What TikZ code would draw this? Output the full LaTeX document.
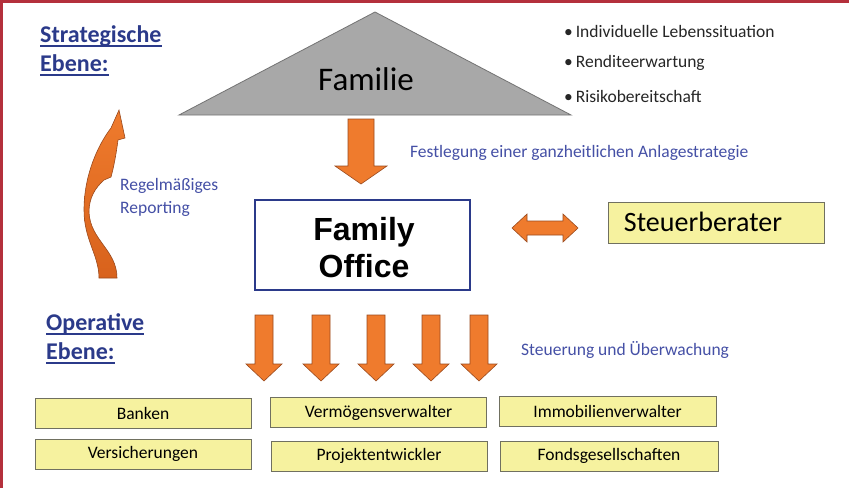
\documentclass[tikz,border=0pt]{standalone}
\usepackage{fontspec}
\setmainfont{Carlito}
\newfontfamily\arialfont{Liberation Sans}
\definecolor{headblue}{HTML}{2B3A8A}
\definecolor{txtblue}{HTML}{4550A6}
\definecolor{arrorange}{HTML}{EF7B2D}
\definecolor{arrdark}{HTML}{D8621C}
\definecolor{arredge}{HTML}{9A4A1E}
\definecolor{boxyellow}{HTML}{F6F29F}
\definecolor{boxedge}{HTML}{707060}
\definecolor{frame}{HTML}{B4303C}
\definecolor{trigray}{HTML}{A8A8A8}
\newcommand{\dnarrow}[6]{%
  \filldraw[arrowstyle] ({#1-#5},#2) -- ({#1+#5},#2) -- ({#1+#5},#3) -- ({#1+#6},#3) -- (#1,#4) -- ({#1-#6},#3) -- ({#1-#5},#3) -- cycle;}
\tikzset{
  arrowstyle/.style={fill=arrorange, draw=arredge, line width=0.6pt, line join=miter},
  heading/.style={anchor=base west, inner sep=0pt, text=headblue, font=\fontsize{24}{29}\selectfont\bfseries},
  uline/.style={draw=headblue, line width=1.6pt},
  note/.style={anchor=west, inner sep=0pt, text=txtblue, font=\fontsize{17.5}{21}\selectfont},
  bullet/.style={anchor=west, inner sep=0pt, text=black!85, font=\fontsize{17.5}{21}\selectfont},
  ybox/.style={draw=boxedge, fill=boxyellow, line width=1pt, font=\fontsize{17.5}{21}\selectfont, inner sep=0pt}
}
\begin{document}
\begin{tikzpicture}[x=1pt,y=-1pt]
\useasboundingbox (0,0) rectangle (849,488);
\fill[white] (0,0) rectangle (849,488);
% frame
\draw[frame, line width=3pt] (1.5,488) -- (1.5,1.5) -- (849,1.5);

% headings
\node[heading] (strat1) at (40,42) {Strategische};
\node[heading] (strat2) at (40,71) {Ebene:};
\node[heading] (oper1) at (46,330) {Operative};
\node[heading] (oper2) at (46,359) {Ebene:};
\draw[uline] (40,46) -- (strat1.east |- 0,46);
\draw[uline] (40,75) -- (strat2.east |- 0,75);
\draw[uline] (46,334) -- (oper1.east |- 0,334);
\draw[uline] (46,363) -- (oper2.east |- 0,363);

% triangle
\coordinate (apex) at (375,12);
\coordinate (bl) at (179,115);
\coordinate (br) at (571,115);
\filldraw[fill=trigray, draw=black!55, line width=0.8pt] (apex) -- (br) -- (bl) -- cycle;
\node[inner sep=0pt, font=\fontsize{33}{38}\selectfont] (fam) at (366,79) {Familie};

% bullets
\node[bullet] (b1) at (564,31) {\textbullet\,Individuelle Lebenssituation};
\node[bullet] (b2) at (564,63) {\textbullet\,Renditeerwartung};
\node[bullet] (b3) at (564,96) {\textbullet\,Risikobereitschaft};

% big down arrow
\dnarrow{361}{119}{166}{184}{13}{26}
\node[note] (fest) at (410,153) {Festlegung einer ganzheitlichen Anlagestrategie};

% family office
\node[draw=headblue, line width=1.6pt, fill=white, minimum width=215pt, minimum height=90pt, inner sep=0pt] (fo) at (362.5,245) {};
\node[inner sep=0pt, font=\arialfont\bfseries\fontsize{32}{37}\selectfont, anchor=base] (fot1) at (364,240) {Family};
\node[inner sep=0pt, font=\arialfont\bfseries\fontsize{32}{37}\selectfont, anchor=base] (fot2) at (364,277) {Office};

% reporting arrow
\path[top color=arrorange, bottom color=arrdark, draw=arredge, line width=0.6pt]
  (119,110) -- (125,138) -- (118,140)
  .. controls (116,155) and (114,166) .. (111,177)
  -- (104,180)
  .. controls (95,188) and (89,198) .. (89,212)
  .. controls (90,240) and (117,250) .. (117,278)
  -- (99,278)
  .. controls (99,255) and (84,240) .. (84,210)
  .. controls (84,175) and (98,145) .. (111,128) -- cycle;
\node[note] (rep1) at (120,186) {Regelmäßiges};
\node[note] (rep2) at (120,209) {Reporting};

% double arrow + Steuerberater
\filldraw[arrowstyle] (512,228) -- (527,214) -- (527,221) -- (563,221) -- (563,214) -- (578,228) -- (563,242) -- (563,235) -- (527,235) -- (527,242) -- cycle;
\node[ybox, minimum width=216pt, minimum height=41pt] (stb) at (716.5,222.5) {};
\node[inner sep=0pt, font=\fontsize{28}{33}\selectfont] (stbt) at (703,222) {Steuerberater};

% five arrows
\dnarrow{264}{315}{364}{381}{9}{18}
\dnarrow{321}{315}{364}{381}{9}{18}
\dnarrow{376}{315}{364}{381}{9}{18}
\dnarrow{431}{315}{364}{381}{9}{18}
\dnarrow{479}{315}{364}{381}{9}{18}
\node[note] (steu) at (521,350) {Steuerung und Überwachung};

% bottom boxes
\node[ybox, minimum width=216pt, minimum height=30pt] (banken) at (143,413.5) {Banken};
\node[ybox, minimum width=216pt, minimum height=30pt] (verm) at (378.5,412.5) {Vermögensverwalter};
\node[ybox, minimum width=217pt, minimum height=30pt] (immo) at (607.5,411.5) {Immobilienverwalter};
\node[ybox, minimum width=216pt, minimum height=30pt] (vers) at (143,454) {Versicherungen};
\node[ybox, minimum width=216pt, minimum height=30pt] (proj) at (379,456) {Projektentwickler};
\node[ybox, minimum width=218pt, minimum height=30pt] (fonds) at (609,456) {Fondsgesellschaften};
\end{tikzpicture}
\end{document}
